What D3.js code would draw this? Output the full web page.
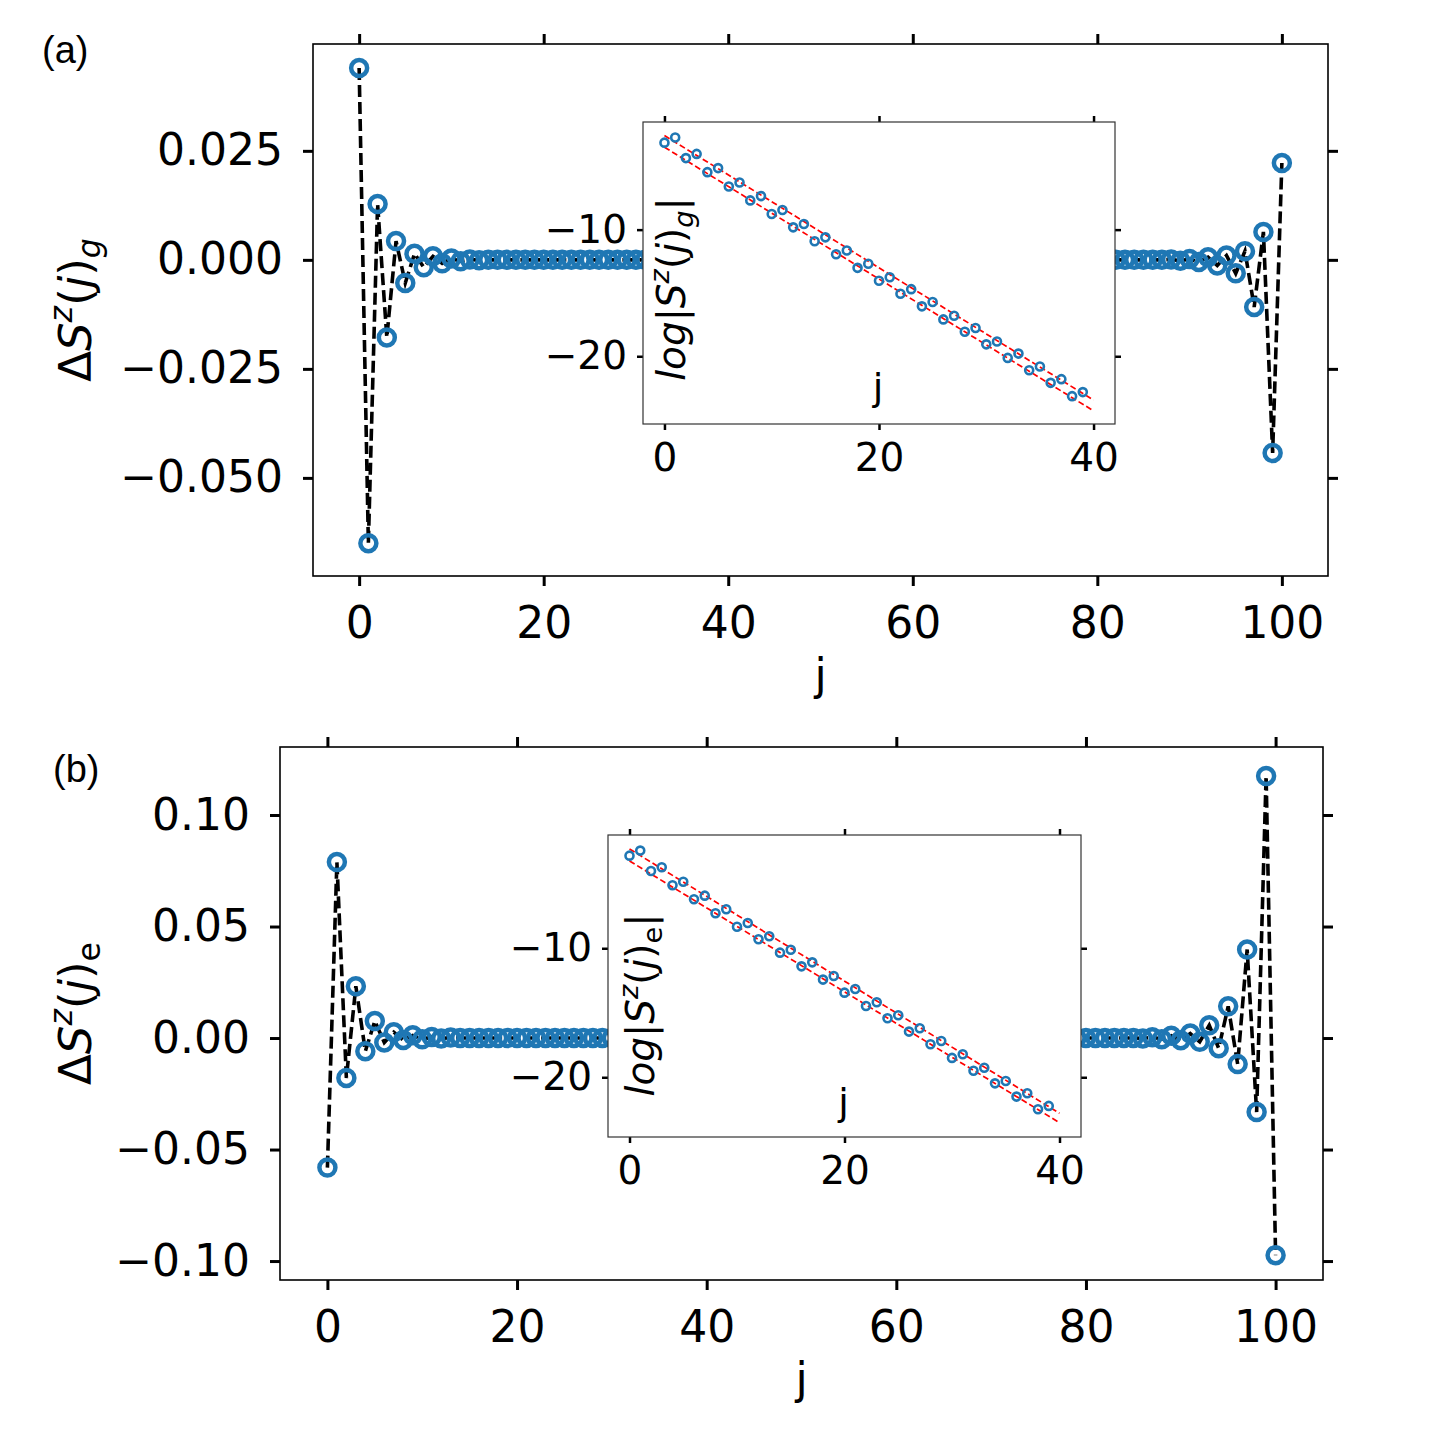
<!DOCTYPE html>
<html>
<head>
<meta charset="utf-8">
<script src="https://cdn.jsdelivr.net/npm/d3@7"></script>
<style>
  body { margin: 0; background: #fff; }
  svg text { font-family: "DejaVu Sans", sans-serif; fill: #000; }
</style>
</head>
<body>
<svg id="fig" width="1444" height="1450"></svg>
<script>
// site index for the main panels
const sites = d3.range(0, 101);
// site index for the insets
const insetSites = d3.range(0, 40);

// panel (a): ΔS^z(j)_g, one value per site 0..100
const deltaG = [
  0.0440, -0.0650, 0.0128, -0.0178, 0.0043, -0.0053, 0.0014, -0.0017, 0.0008, -0.0008,
  0.0003, -0.0003, 0.0001, -0.0001, 0, 0, 0, 0, 0, 0,
  0, 0, 0, 0, 0, 0, 0, 0, 0, 0,
  0, 0, 0, 0, 0, 0, 0, 0, 0, 0,
  0, 0, 0, 0, 0, 0, 0, 0, 0, 0,
  0, 0, 0, 0, 0, 0, 0, 0, 0, 0,
  0, 0, 0, 0, 0, 0, 0, 0, 0, 0,
  0, 0, 0, 0, 0, 0, 0, 0, 0, 0,
  0, 0, 0, 0, 0, 0, 0, 0, 0.0001, -0.0002,
  0.0002, -0.0005, 0.0006, -0.0013, 0.0010, -0.0031, 0.0020, -0.0108, 0.0064, -0.0443,
  0.0222
];

// panel (b): ΔS^z(j)_e
const deltaE = [
  -0.0581, 0.0789, -0.0179, 0.0232, -0.0059, 0.0076, -0.0020, 0.0026, -0.0009, 0.0012,
  -0.0006, 0.0005, -0.0002, 0.0002, 0, 0, 0, 0, 0, 0,
  0, 0, 0, 0, 0, 0, 0, 0, 0, 0,
  0, 0, 0, 0, 0, 0, 0, 0, 0, 0,
  0, 0, 0, 0, 0, 0, 0, 0, 0, 0,
  0, 0, 0, 0, 0, 0, 0, 0, 0, 0,
  0, 0, 0, 0, 0, 0, 0, 0, 0, 0,
  0, 0, 0, 0, 0, 0, 0, 0, 0, 0,
  0, 0, 0, 0, 0, 0, -0.0002, 0.0004, -0.0005, 0.0010,
  -0.0010, 0.0020, -0.0017, 0.0057, -0.0046, 0.0142, -0.0117, 0.0397, -0.0332, 0.1175,
  -0.0974
];

// insets: log|S^z(j)| for j = 0..39
const logG = [
  -3.13, -2.73, -4.35, -4.02, -5.46, -5.14, -6.59, -6.28, -7.69, -7.35,
  -8.76, -8.45, -9.82, -9.55, -10.92, -10.61, -11.94, -11.65, -13.02, -12.70,
  -14.04, -13.76, -15.06, -14.70, -16.06, -15.72, -17.09, -16.80, -18.06, -17.77,
  -19.06, -18.84, -20.13, -19.79, -21.10, -20.81, -22.10, -21.81, -23.15, -22.83
];
const logE = [
  -2.82, -2.43, -4.01, -3.72, -5.12, -4.84, -6.20, -5.92, -7.29, -6.98,
  -8.33, -8.04, -9.30, -9.07, -10.34, -10.11, -11.40, -11.09, -12.43, -12.15,
  -13.44, -13.16, -14.47, -14.19, -15.43, -15.19, -16.46, -16.20, -17.44, -17.19,
  -18.50, -18.22, -19.49, -19.26, -20.47, -20.29, -21.50, -21.24, -22.48, -22.22
];

// red dashed guide lines (end points at j = 0 and j = 40)
const fitJ = [0, 40];
const fitGUpper = [-2.57, -23.46];
const fitGLower = [-3.49, -24.31];
const fitEUpper = [-2.30, -22.79];
const fitELower = [-3.23, -23.52];

const mainXTicks = [0, 20, 40, 60, 80, 100];
const yTicksA = [-0.05, -0.025, 0, 0.025];
const yTicksB = [-0.1, -0.05, 0, 0.05, 0.1];
const insetXTicks = [0, 20, 40];
const insetYTicks = [-20, -10];

const blue = '#1f77b4';
const svg = d3.select('#fig');

function styleAxis(g, fs, tw) {
  g.attr('font-size', null).attr('font-family', null);
  g.select('.domain').remove();
  g.selectAll('.tick line').attr('stroke', '#000').attr('stroke-width', tw);
  g.selectAll('.tick text').style('font-size', `${fs}px`).attr('fill', '#000');
}

// text with mathtext-like pieces: {t, it, sup, sub}
function mathText(sel, parts, fs) {
  let shift = 0;
  parts.forEach((p) => {
    const target = p.sup ? -0.42 * fs : (p.sub ? 0.2 * fs : 0);
    sel.append('tspan')
      .attr('dy', target - shift)
      .style('font-size', `${(p.sup || p.sub) ? fs * 0.7 : fs}px`)
      .style('font-style', p.it ? 'italic' : 'normal')
      .text(p.t);
    shift = target;
  });
}

function axesBox(g, x, y, opts) {
  const [x0, x1] = x.range();
  const [y0, y1] = y.range();
  const fmtX = opts.xFormat || d3.format('d');
  g.append('g').attr('transform', `translate(0,${y0})`)
    .call(d3.axisBottom(x).tickValues(opts.xTicks).tickSize(opts.tick)
      .tickPadding(opts.padB).tickFormat(fmtX))
    .call(styleAxis, opts.fs, opts.tw);
  g.append('g').attr('transform', `translate(0,${y1})`)
    .call(d3.axisTop(x).tickValues(opts.xTicks).tickSize(opts.tick).tickFormat(() => ''))
    .call(styleAxis, opts.fs, opts.tw);
  g.append('g').attr('transform', `translate(${x0},0)`)
    .call(d3.axisLeft(y).tickValues(opts.yTicks).tickSize(opts.tick)
      .tickPadding(opts.padL).tickFormat(opts.yFormat))
    .call(styleAxis, opts.fs, opts.tw);
  g.append('g').attr('transform', `translate(${x1},0)`)
    .call(d3.axisRight(y).tickValues(opts.yTicks).tickSize(opts.tick).tickFormat(() => ''))
    .call(styleAxis, opts.fs, opts.tw);
  g.append('rect')
    .attr('x', x0).attr('y', y1)
    .attr('width', x1 - x0).attr('height', y0 - y1)
    .attr('fill', 'none')
    .attr('stroke', opts.frameColor)
    .attr('stroke-width', opts.frameWidth);
}

function drawPanel(cfg) {
  const g = svg.append('g');
  const x = d3.scaleLinear().domain([-5, 105]).range([cfg.left, cfg.right]);
  const y = d3.scaleLinear().domain(cfg.yDomain).range([cfg.bottom, cfg.top]);
  const pts = sites.map((j, i) => ({ j, v: cfg.values[i] }));

  g.append('path')
    .datum(pts)
    .attr('fill', 'none')
    .attr('stroke', '#000')
    .attr('stroke-width', 3.6)
    .attr('stroke-dasharray', '12,5')
    .attr('d', d3.line().x((d) => x(d.j)).y((d) => y(d.v)));

  g.selectAll('circle.main')
    .data(pts)
    .enter()
    .append('circle')
    .attr('class', 'main')
    .attr('cx', (d) => x(d.j))
    .attr('cy', (d) => y(d.v))
    .attr('r', 8)
    .attr('fill', 'none')
    .attr('stroke', blue)
    .attr('stroke-width', 4.5);

  axesBox(g, x, y, {
    xTicks: mainXTicks, yTicks: cfg.yTicks, yFormat: d3.format(cfg.yFmt),
    tick: 10, tw: 3, fs: 44, padB: 21, padL: 20, frameColor: '#000', frameWidth: 1.6,
  });

  g.append('text')
    .attr('x', (cfg.left + cfg.right) / 2)
    .attr('y', cfg.bottom + 114)
    .attr('text-anchor', 'middle')
    .style('font-size', '44px')
    .text('j');

  const yl = g.append('text')
    .attr('transform', `translate(91,${(cfg.top + cfg.bottom) / 2}) rotate(-90)`)
    .attr('text-anchor', 'middle');
  mathText(yl, [
    { t: 'Δ' }, { t: 'S', it: true }, { t: 'z', it: true, sup: true },
    { t: '(' }, { t: 'j', it: true }, { t: ')' }, { t: cfg.sub, it: cfg.subIt, sub: true },
  ], 45);

  svg.append('text')
    .attr('x', cfg.tagX).attr('y', cfg.tagY)
    .style('font-family', '"Liberation Sans", Arial, sans-serif')
    .style('font-size', '38px')
    .text(cfg.tag);

  // inset
  const ins = cfg.inset;
  const gi = svg.append('g');
  const xi = d3.scaleLinear().domain([-2, 42]).range([ins.left, ins.right]);
  const yi = d3.scaleLinear().domain(ins.yDomain).range([ins.bottom, ins.top]);
  gi.append('rect')
    .attr('x', ins.left).attr('y', ins.top)
    .attr('width', ins.right - ins.left).attr('height', ins.bottom - ins.top)
    .attr('fill', '#fff');

  [ins.fitUpper, ins.fitLower].forEach((f) => {
    gi.append('path')
      .datum(fitJ.map((j, i) => ({ j, v: f[i] })))
      .attr('fill', 'none')
      .attr('stroke', '#ff0000')
      .attr('stroke-width', 1.7)
      .attr('stroke-dasharray', '6,3')
      .attr('d', d3.line().x((d) => xi(d.j)).y((d) => yi(d.v)));
  });

  gi.selectAll('circle.ins')
    .data(insetSites.map((j, i) => ({ j, v: ins.values[i] })))
    .enter()
    .append('circle')
    .attr('class', 'ins')
    .attr('cx', (d) => xi(d.j))
    .attr('cy', (d) => yi(d.v))
    .attr('r', 4)
    .attr('fill', 'none')
    .attr('stroke', blue)
    .attr('stroke-width', 2.6);

  axesBox(gi, xi, yi, {
    xTicks: insetXTicks, yTicks: insetYTicks, yFormat: d3.format('d'),
    tick: 6, tw: 2.5, fs: 39, padB: 13, padL: 10, frameColor: '#333', frameWidth: 1.2,
  });

  gi.append('text')
    .attr('x', (ins.left + ins.right) / 2 - 1)
    .attr('y', ins.jY)
    .attr('text-anchor', 'middle')
    .style('font-size', '38px')
    .text('j');

  const il = gi.append('text')
    .attr('transform', `translate(${ins.labelX},${ins.labelY}) rotate(-90)`)
    .attr('text-anchor', 'middle');
  mathText(il, [
    { t: 'log', it: true }, { t: '|' }, { t: 'S', it: true }, { t: 'z', it: true, sup: true },
    { t: '(' }, { t: 'j', it: true }, { t: ')' }, { t: cfg.sub, it: cfg.subIt, sub: true }, { t: '|' },
  ], 39);
}

drawPanel({
  values: deltaG, left: 313, right: 1328, top: 44, bottom: 576,
  yDomain: [-0.0725, 0.0495], yTicks: yTicksA, yFmt: '.3f',
  sub: 'g', subIt: true, tag: '(a)', tagX: 42, tagY: 63,
  inset: {
    values: logG, left: 643, right: 1115, top: 122, bottom: 424,
    yDomain: [-25.35, -1.5], fitUpper: fitGUpper, fitLower: fitGLower,
    jY: 400, labelX: 685, labelY: 289,
  },
});

drawPanel({
  values: deltaE, left: 280, right: 1323, top: 747, bottom: 1280,
  yDomain: [-0.1085, 0.1305], yTicks: yTicksB, yFmt: '.2f',
  sub: 'e', subIt: false, tag: '(b)', tagX: 53, tagY: 782,
  inset: {
    values: logE, left: 608, right: 1081, top: 835, bottom: 1137,
    yDomain: [-24.63, -1.22], fitUpper: fitEUpper, fitLower: fitELower,
    jY: 1115, labelX: 654, labelY: 1005,
  },
});
</script>
</body>
</html>
